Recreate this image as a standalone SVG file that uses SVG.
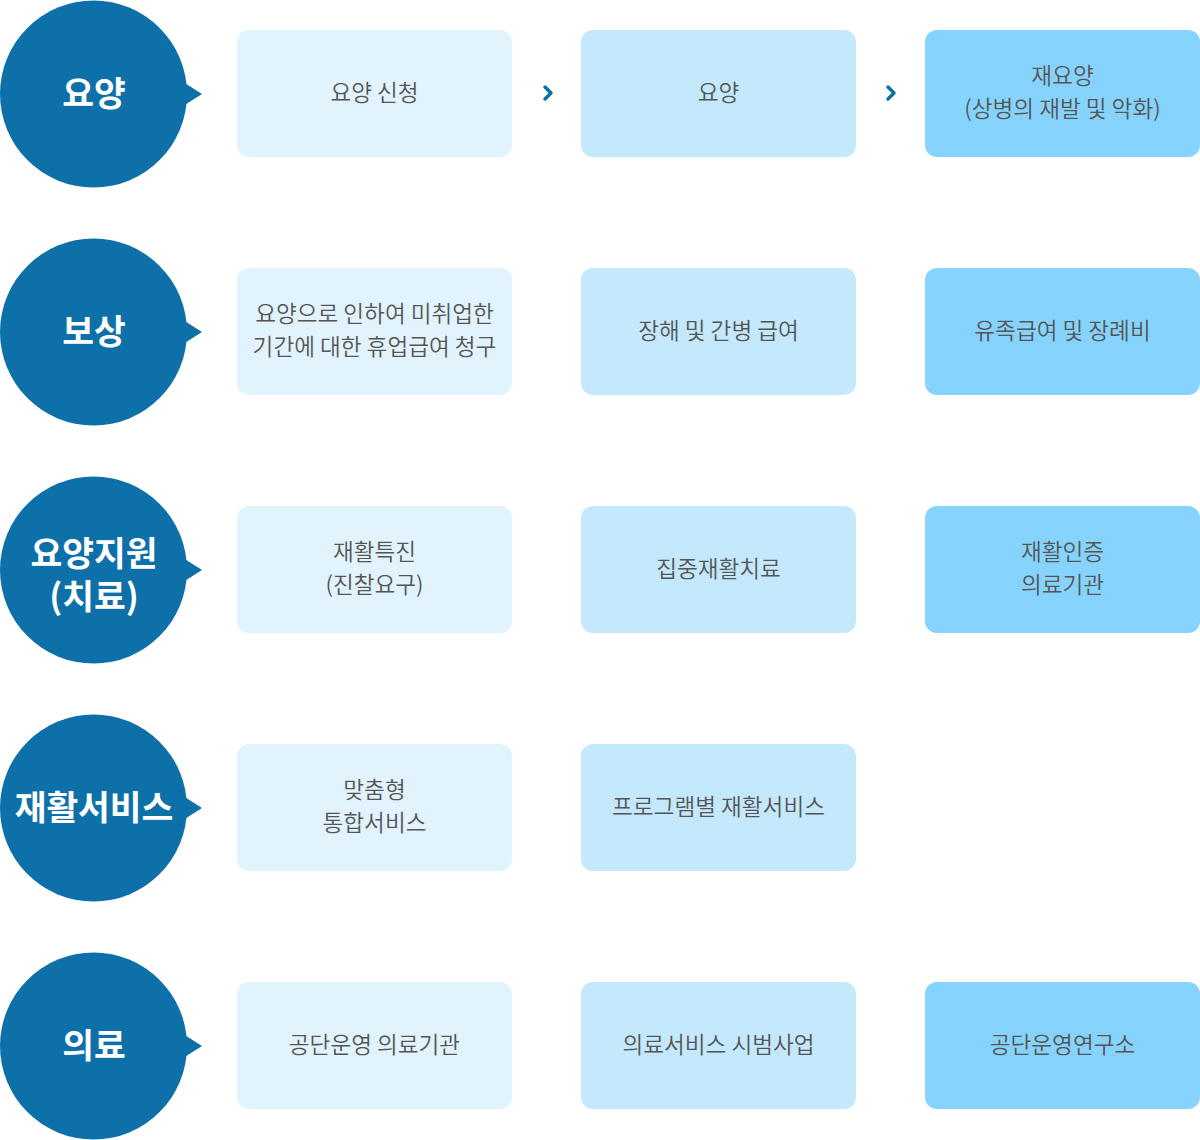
<svg xmlns="http://www.w3.org/2000/svg" width="1200" height="1140" viewBox="0 0 1200 1140">
<style>
.c{fill:#0e70a8}
.ct{fill:#fff;font-family:"Noto Sans CJK KR","Noto Sans",sans-serif;font-weight:700;font-size:34.5px;text-anchor:middle}
.b1{fill:#e1f4fe}.b2{fill:#c4e9fd}.b3{fill:#86d4fd}
.t{fill:#555;font-family:"Noto Sans CJK KR","Noto Sans",sans-serif;font-size:22.6px;font-weight:350;text-anchor:middle}
.ch{fill:none;stroke:#0e70a8;stroke-width:3.5;stroke-linecap:round;stroke-linejoin:round}
</style>
<defs>
<g id="bubble"><circle class="c" cx="93.5" cy="0" r="93.5"/><path class="c" d="M180 -14 L202 0 L180 14 Z"/></g>
</defs>
<g id="n-yoyang"><use href="#bubble" y="94"/><text class="ct" x="94" y="106">요양</text></g>
<g id="n-bosang"><use href="#bubble" y="332"/><text class="ct" x="94" y="344">보상</text></g>
<g id="n-jiwon"><use href="#bubble" y="570"/><text class="ct" x="94" y="566">요양지원</text><text class="ct" x="94" y="609">(치료)</text></g>
<g id="n-jaehwal"><use href="#bubble" y="808"/><text class="ct" x="94" y="820">재활서비스</text></g>
<g id="n-uiryo"><use href="#bubble" y="1046"/><text class="ct" x="94" y="1058">의료</text></g>

<g id="r1c1"><rect class="b1" x="237" y="30" width="275" height="127" rx="12"/><text class="t" x="374.5" y="101">요양 신청</text></g>
<g id="r1c2"><rect class="b2" x="581" y="30" width="275" height="127" rx="12"/><text class="t" x="718.5" y="101">요양</text></g>
<g id="r1c3"><rect class="b3" x="925" y="30" width="275" height="127" rx="12"/><text class="t" x="1062.5" y="84">재요양</text><text class="t" x="1062.5" y="117">(상병의 재발 및 악화)</text></g>

<g id="r2c1"><rect class="b1" x="237" y="268" width="275" height="127" rx="12"/><text class="t" x="374.5" y="322">요양으로 인하여 미취업한</text><text class="t" x="374.5" y="355">기간에 대한 휴업급여 청구</text></g>
<g id="r2c2"><rect class="b2" x="581" y="268" width="275" height="127" rx="12"/><text class="t" x="718.5" y="339">장해 및 간병 급여</text></g>
<g id="r2c3"><rect class="b3" x="925" y="268" width="275" height="127" rx="12"/><text class="t" x="1062.5" y="339">유족급여 및 장례비</text></g>

<g id="r3c1"><rect class="b1" x="237" y="506" width="275" height="127" rx="12"/><text class="t" x="374.5" y="560">재활특진</text><text class="t" x="374.5" y="593">(진찰요구)</text></g>
<g id="r3c2"><rect class="b2" x="581" y="506" width="275" height="127" rx="12"/><text class="t" x="718.5" y="577">집중재활치료</text></g>
<g id="r3c3"><rect class="b3" x="925" y="506" width="275" height="127" rx="12"/><text class="t" x="1062.5" y="560">재활인증</text><text class="t" x="1062.5" y="593">의료기관</text></g>

<g id="r4c1"><rect class="b1" x="237" y="744" width="275" height="127" rx="12"/><text class="t" x="374.5" y="798">맞춤형</text><text class="t" x="374.5" y="831">통합서비스</text></g>
<g id="r4c2"><rect class="b2" x="581" y="744" width="275" height="127" rx="12"/><text class="t" x="718.5" y="815">프로그램별 재활서비스</text></g>

<g id="r5c1"><rect class="b1" x="237" y="982" width="275" height="127" rx="12"/><text class="t" x="374.5" y="1053">공단운영 의료기관</text></g>
<g id="r5c2"><rect class="b2" x="581" y="982" width="275" height="127" rx="12"/><text class="t" x="718.5" y="1053">의료서비스 시범사업</text></g>
<g id="r5c3"><rect class="b3" x="925" y="982" width="275" height="127" rx="12"/><text class="t" x="1062.5" y="1053">공단운영연구소</text></g>

<g id="connectors">
<path class="ch" d="M545 87 L551 93 L545 99"/>
<path class="ch" d="M888 87 L894 93 L888 99"/>
</g>
</svg>
